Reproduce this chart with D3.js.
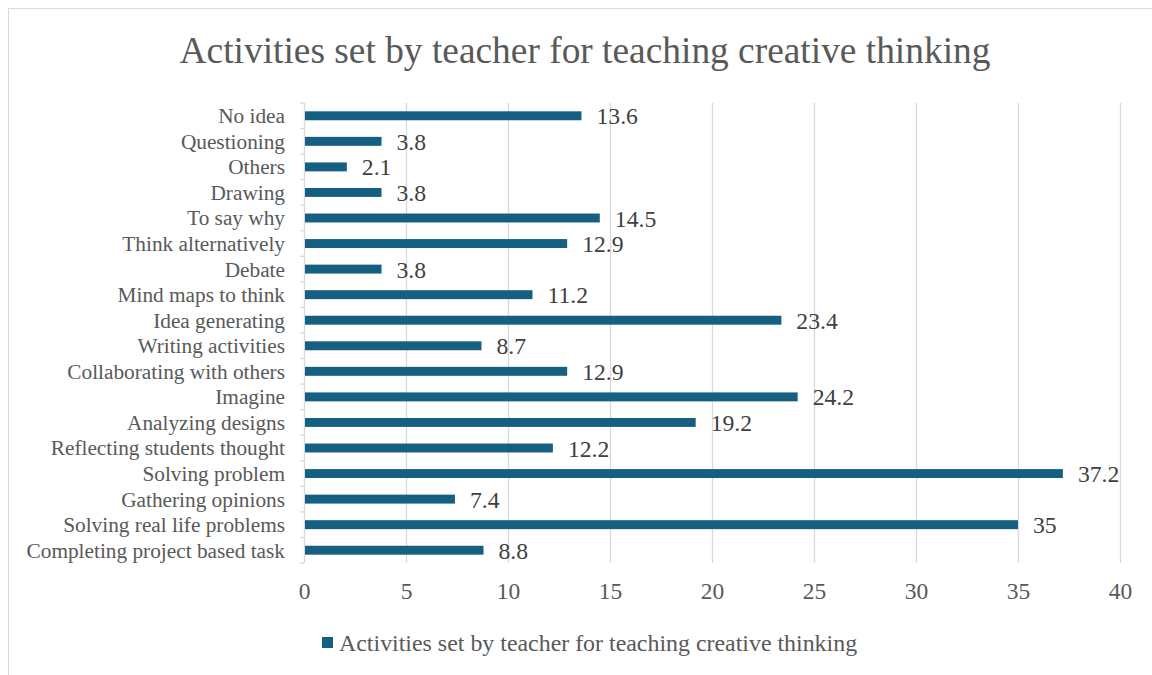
<!DOCTYPE html>
<html>
<head>
<meta charset="utf-8">
<script src="https://cdn.jsdelivr.net/npm/d3@7"></script>
<style>
  html, body { margin: 0; padding: 0; background: #fff; }
  svg { display: block; }
  svg text { font-family: "Liberation Serif", "Times New Roman", serif !important; }
</style>
</head>
<body>
<svg id="chart" width="1152" height="675"></svg>
<script>
// Activities, listed top to bottom as they appear on the chart
const categories = [
  "No idea", "Questioning", "Others", "Drawing ", "To say why",
  "Think alternatively", "Debate", "Mind maps to think", "Idea generating",
  "Writing activities", "Collaborating with others", "Imagine",
  "Analyzing designs", "Reflecting students thought", "Solving problem",
  "Gathering opinions", "Solving real life problems", "Completing project based task"
];
const values = [
  13.6, 3.8, 2.1, 3.8, 14.5, 12.9, 3.8, 11.2, 23.4,
  8.7, 12.9, 24.2, 19.2, 12.2, 37.2, 7.4, 35, 8.8
];
const xTicks = [0, 5, 10, 15, 20, 25, 30, 35, 40];
const seriesName = "Activities set by teacher for teaching creative thinking";
const chartTitle = "Activities set by teacher for teaching creative thinking";

const serif = '"Liberation Serif", "Times New Roman", serif';
const svg = d3.select("#chart");
const W = 1152, H = 675;
const plot = { left: 304, right: 1120, top: 103, bottom: 563 };
const barColor = "#156082";

// Chart frame
svg.append("rect")
  .attr("x", 8.5).attr("y", 8.5)
  .attr("width", W + 20).attr("height", H + 20)
  .attr("fill", "#fff").attr("stroke", "#d9d9d9").attr("stroke-width", 1);

const x = d3.scaleLinear().domain([0, 40]).range([plot.left, plot.right]);
const y = d3.scaleBand().domain(categories).range([plot.top, plot.bottom]).paddingInner(0.65).paddingOuter(0.325);

// Title
svg.append("text")
  .attr("x", 585).attr("y", 63)
  .attr("text-anchor", "middle")
  .style("font-family", serif)
  .style("font-size", "37.4px")
  .attr("fill", "#595959")
  .text(chartTitle);

// Vertical gridlines
svg.append("g")
  .selectAll("line")
  .data(xTicks.filter(d => d > 0))
  .join("line")
  .attr("x1", d => Math.round(x(d)) + 0.5).attr("x2", d => Math.round(x(d)) + 0.5)
  .attr("y1", plot.top).attr("y2", plot.bottom)
  .attr("stroke", "#d9d9d9").attr("stroke-width", 1.3);

// X axis tick labels
const xAxis = d3.axisBottom(x).tickValues(xTicks).tickSize(0).tickPadding(0).tickFormat(d3.format("d"));
const gx = svg.append("g").attr("transform", `translate(0,${plot.bottom + 36})`).call(xAxis);
gx.attr("font-family", null).attr("font-size", null);
gx.select(".domain").remove();
gx.selectAll("text")
  .attr("dy", 0)
  .style("font-family", serif)
  .style("font-size", "23.5px")
  .attr("fill", "#595959");

// Category axis with boundary ticks
const step = y.step();
const gy = svg.append("g");
gy.append("line")
  .attr("x1", plot.left + 0.5).attr("x2", plot.left + 0.5)
  .attr("y1", plot.top).attr("y2", plot.bottom)
  .attr("stroke", "#d9d9d9").attr("stroke-width", 1.3);
const bounds = d3.range(categories.length + 1).map(i => plot.top + i * step);
gy.selectAll("line.tick")
  .data(bounds)
  .join("line")
  .attr("class", "tick")
  .attr("x1", plot.left - 4).attr("x2", plot.left)
  .attr("y1", d => d).attr("y2", d => d)
  .attr("stroke", "#d9d9d9").attr("stroke-width", 1.3);

const yAxis = d3.axisLeft(y).tickSize(0).tickPadding(19);
const gyl = svg.append("g").attr("transform", `translate(${plot.left},0)`).call(yAxis);
gyl.attr("font-family", null).attr("font-size", null);
gyl.select(".domain").remove();
gyl.selectAll("text")
  .attr("dy", "0.35em")
  .style("font-family", serif)
  .style("font-size", "21.3px")
  .attr("fill", "#595959");

// Bars
const data = categories.map((c, i) => ({ c, v: values[i] }));
svg.append("g")
  .selectAll("rect")
  .data(data)
  .join("rect")
  .attr("x", x(0) + 1)
  .attr("y", d => y(d.c))
  .attr("width", d => x(d.v) - x(0) - 1)
  .attr("height", y.bandwidth())
  .attr("fill", barColor);

// Value labels
svg.append("g")
  .selectAll("text")
  .data(data)
  .join("text")
  .attr("x", d => x(d.v) + 15)
  .attr("y", d => y(d.c) + y.bandwidth() / 2)
  .attr("dy", "0.36em")
  .style("font-family", serif)
  .style("font-size", "23.7px")
  .attr("fill", "#404040")
  .text(d => d3.format("")(d.v));

// Legend
const lg = svg.append("g");
lg.append("rect")
  .attr("x", 322).attr("y", 637).attr("width", 11).attr("height", 11)
  .attr("fill", barColor);
lg.append("text")
  .attr("x", 339).attr("y", 651)
  .style("font-family", serif)
  .style("font-size", "23.9px")
  .attr("fill", "#595959")
  .text(seriesName);
</script>
</body>
</html>
